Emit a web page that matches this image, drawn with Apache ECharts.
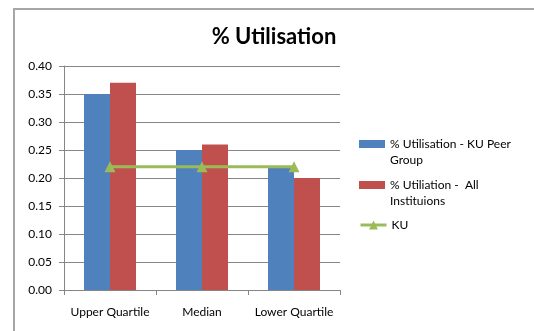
<!DOCTYPE html>
<html>
<head>
<meta charset="utf-8">
<script src="https://cdn.jsdelivr.net/npm/echarts@6/dist/echarts.min.js"></script>
<style>
  html, body { margin: 0; padding: 0; background: #fff; }
  #chart { width: 534px; height: 331px; }
</style>
</head>
<body>
<div id="chart"></div>
<script>
// Utilisation by quartile
const categories = ['Upper Quartile', 'Median', 'Lower Quartile'];
const peerGroup = [0.35, 0.25, 0.22];
const allInstitutions = [0.37, 0.26, 0.20];
const ku = [0.22, 0.22, 0.22];
const yTicks = [0, 0.05, 0.10, 0.15, 0.20, 0.25, 0.30, 0.35, 0.40];

const seriesNames = [
  '% Utilisation - KU Peer Group',
  '% Utiliation -  All Instituions',
  'KU'
];
// Wrapped legend labels; the leading blank line keeps the swatch level with the first line
const legendText = {
  [seriesNames[0]]: ' \n% Utilisation - KU Peer\nGroup',
  [seriesNames[1]]: ' \n% Utiliation -  All\nInstituions',
  [seriesNames[2]]: 'KU'
};

const FONT = 'Lato, "Open Sans", sans-serif';
const gridColor = '#868686';
const kuColor = '#9BBB59';

function legendBlock(name, top, iconHeight, extra) {
  return {
    orient: 'vertical',
    left: 359,
    top: top,
    padding: 0,
    itemWidth: 26,
    itemHeight: iconHeight,
    selectedMode: false,
    data: [Object.assign({ name: name }, extra || {})],
    formatter: n => legendText[n],
    textStyle: { fontFamily: FONT, fontSize: 12, color: '#000', lineHeight: 16 }
  };
}

const chart = echarts.init(document.getElementById('chart'), null, { renderer: 'canvas' });
chart.setOption({
  animation: false,
  backgroundColor: '#fff',
  title: {
    text: '% Utilisation',
    left: 269,
    textAlign: 'center',
    top: 21,
    textStyle: { fontFamily: FONT, fontSize: 22, fontWeight: 'bold', color: '#000' }
  },
  graphic: [{
    type: 'rect',
    shape: { x: 14, y: 9, width: 540, height: 340 },
    style: { fill: 'none', stroke: '#a6a6a6', lineWidth: 2 },
    silent: true
  }],
  legend: [
    legendBlock(seriesNames[0], 120, 8, { icon: 'rect' }),
    legendBlock(seriesNames[1], 161, 8, { icon: 'rect' }),
    legendBlock(seriesNames[2], 217, 11, { lineStyle: { width: 3, color: kuColor } })
  ],
  grid: { left: 64, right: 194, top: 66, bottom: 41 },
  xAxis: {
    type: 'category',
    data: categories,
    axisLine: { lineStyle: { color: gridColor, width: 1 } },
    axisTick: { show: true, length: 5, lineStyle: { color: gridColor } },
    axisLabel: { fontFamily: FONT, fontSize: 12, color: '#000', margin: 16, interval: 0 }
  },
  yAxis: {
    type: 'value',
    min: yTicks[0],
    max: yTicks[yTicks.length - 1],
    interval: 0.05,
    axisLine: { show: true, lineStyle: { color: gridColor, width: 1 } },
    axisTick: { show: true, length: 5, lineStyle: { color: gridColor } },
    splitLine: { lineStyle: { color: gridColor, width: 1 } },
    axisLabel: {
      fontFamily: FONT, fontSize: 12, color: '#000', margin: 12,
      formatter: v => v.toFixed(2)
    }
  },
  series: [
    {
      name: seriesNames[0],
      type: 'bar',
      data: peerGroup,
      barWidth: 26,
      barGap: '0%',
      itemStyle: { color: '#4F81BD' }
    },
    {
      name: seriesNames[1],
      type: 'bar',
      data: allInstitutions,
      barWidth: 26,
      barGap: '0%',
      itemStyle: { color: '#C0504D' }
    },
    {
      name: seriesNames[2],
      type: 'line',
      data: ku,
      symbol: 'triangle',
      symbolSize: 11,
      lineStyle: { color: kuColor, width: 3 },
      itemStyle: { color: kuColor },
      z: 5
    }
  ]
});
</script>
</body>
</html>
